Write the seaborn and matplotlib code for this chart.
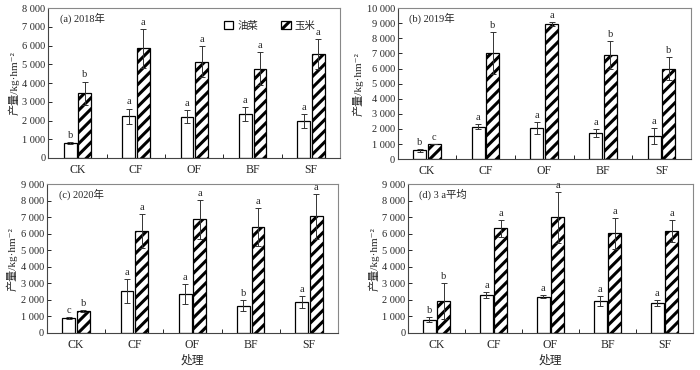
import pandas as pd
import matplotlib
matplotlib.use("Agg")
import matplotlib.pyplot as plt
import seaborn as sns
from matplotlib.ticker import MultipleLocator, FixedLocator, FuncFormatter

sns.set_style("ticks")
plt.rcParams["font.family"] = ["Liberation Serif", "Noto Sans CJK SC", "DejaVu Serif"]
plt.rcParams["hatch.linewidth"] = 2.2

treatments = ["CK", "CF", "OF", "BF", "SF"]
crops = ["油菜", "玉米"]

# (a) 2018
rape_2018 = [800, 2220, 2200, 2330, 1970]
rape_2018_err = [50, 420, 350, 380, 360]
maize_2018 = [3450, 5850, 5150, 4770, 5550]
maize_2018_err = [630, 1050, 850, 880, 800]
rape_2018_sig = ["b", "a", "a", "a", "a"]
maize_2018_sig = ["b", "a", "a", "a", "a"]

# (b) 2019
rape_2019 = [580, 2150, 2070, 1720, 1520]
rape_2019_err = [80, 150, 400, 280, 530]
maize_2019 = [1000, 7050, 8950, 6920, 5980]
maize_2019_err = [20, 1380, 100, 930, 760]
rape_2019_sig = ["b", "a", "a", "a", "a"]
maize_2019_sig = ["c", "b", "a", "b", "b"]

# (c) 2020
rape_2020 = [930, 2540, 2350, 1660, 1860]
rape_2020_err = [60, 730, 620, 350, 360]
maize_2020 = [1320, 6150, 6870, 6420, 7050]
maize_2020_err = [50, 1030, 1200, 1140, 1380]
rape_2020_sig = ["c", "a", "a", "b", "a"]
maize_2020_sig = ["b", "a", "a", "a", "a"]

# (d) 3 a mean
rape_mean = [790, 2300, 2200, 1920, 1790]
rape_mean_err = [150, 180, 100, 300, 180]
maize_mean = [1920, 6330, 7000, 6030, 6180]
maize_mean_err = [1100, 520, 1550, 920, 650]
rape_mean_sig = ["b", "a", "a", "a", "a"]
maize_mean_sig = ["b", "a", "a", "a", "a"]

panels = [
    ("(a) 2018年", rape_2018, rape_2018_err, maize_2018, maize_2018_err,
     rape_2018_sig, maize_2018_sig, 8000),
    ("(b) 2019年", rape_2019, rape_2019_err, maize_2019, maize_2019_err,
     rape_2019_sig, maize_2019_sig, 10000),
    ("(c) 2020年", rape_2020, rape_2020_err, maize_2020, maize_2020_err,
     rape_2020_sig, maize_2020_sig, 9000),
    ("(d) 3 a平均", rape_mean, rape_mean_err, maize_mean, maize_mean_err,
     rape_mean_sig, maize_mean_sig, 9000),
]

positions = [
    [0.069, 0.573, 0.417, 0.405],
    [0.568, 0.570, 0.419, 0.408],
    [0.067, 0.100, 0.416, 0.402],
    [0.583, 0.100, 0.407, 0.402],
]

fig = plt.figure(figsize=(7, 3.7), dpi=100)

for i, (title, rape, rape_err, maize, maize_err, rape_sig, maize_sig, ymax) in enumerate(panels):
    ax = fig.add_axes(positions[i])
    df = pd.DataFrame({
        "处理": treatments * 2,
        "产量": rape + maize,
        "作物": [crops[0]] * 5 + [crops[1]] * 5,
    })
    sns.barplot(data=df, x="处理", y="产量", hue="作物", ax=ax,
                palette=["white", "white"], edgecolor="black", linewidth=0.9,
                width=0.5, gap=0.12, errorbar=None, legend=False)
    for patch in ax.containers[1]:
        patch.set_hatch("///")

    for cont, errs, sigs in [(ax.containers[0], rape_err, rape_sig),
                             (ax.containers[1], maize_err, maize_sig)]:
        xs = [p.get_x() + p.get_width() / 2 for p in cont]
        hs = [p.get_height() for p in cont]
        ax.errorbar(xs, hs, yerr=errs, fmt="none", ecolor="#333333",
                    elinewidth=0.7, capsize=2, capthick=0.7)
        for x, h, e, s in zip(xs, hs, errs, sigs):
            ax.annotate(s, (x, h + e), xytext=(0, 1.5), textcoords="offset points",
                        ha="center", va="bottom", fontsize=7.5)

    ax.set_ylim(0, ymax)
    ax.set_xlim(-0.5, 4.5)
    ax.yaxis.set_major_locator(MultipleLocator(1000))
    ax.yaxis.set_major_formatter(FuncFormatter(lambda v, p: f"{int(v):,}".replace(",", " ")))
    ax.xaxis.set_minor_locator(FixedLocator([0.5, 1.5, 2.5, 3.5]))
    ax.tick_params(axis="y", direction="in", length=3, width=0.7, labelsize=7.5, pad=2)
    ax.tick_params(axis="x", which="major", length=0, labelsize=8.5, pad=4)
    ax.tick_params(axis="x", which="minor", direction="in", length=3, width=0.7)
    for side in ["top", "right"]:
        ax.spines[side].set_visible(True)
        ax.spines[side].set_color("#888888")
    for side in ["left", "bottom"]:
        ax.spines[side].set_color("#444444")
    for sp in ax.spines.values():
        sp.set_linewidth(0.8)

    ax.set_ylabel("产量/kg·hm⁻²", fontsize=8, labelpad=2)
    if i >= 2:
        ax.set_xlabel("处理", fontsize=8.5, labelpad=3)
    else:
        ax.set_xlabel("")
    ax.text(0.04, 0.93, title, transform=ax.transAxes, fontsize=7.5,
            ha="left", va="center")

    if i == 0:
        ax.legend(handles=list(ax.containers[0][:1]) + list(ax.containers[1][:1]),
                  labels=crops, loc="upper left", bbox_to_anchor=(0.57, 0.98),
                  ncol=2, frameon=False, fontsize=7.5, handlelength=0.9,
                  handleheight=0.9, columnspacing=2.2, handletextpad=0.4)

fig.savefig("out.png", dpi=100)
